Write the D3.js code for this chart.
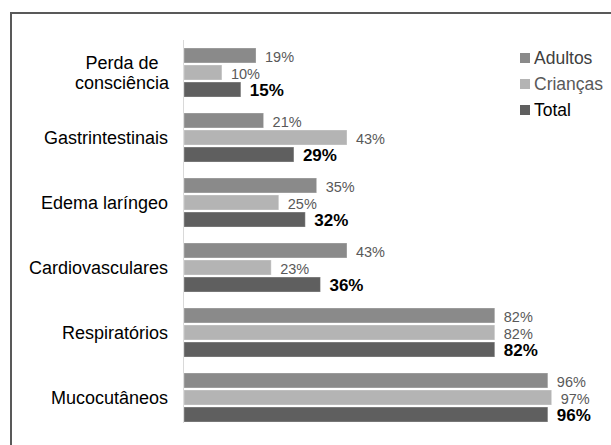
<!doctype html>
<html>
<head>
<meta charset="utf-8">
<style>
  body { margin: 0; background: #fff; }
  text { font-family: "Liberation Sans", Arial, sans-serif; }
</style>
<script src="https://d3js.org/d3.v7.min.js"></script>
</head>
<body>
<svg width="611" height="445"></svg>
<script>
// categories top to bottom (multi-line labels split with |)
var categories = ["Perda de|consciência", "Gastrintestinais", "Edema laríngeo",
                  "Cardiovasculares", "Respiratórios", "Mucocutâneos"];
var seriesNames = ["Adultos", "Crianças", "Total"];
var adultos  = [19, 21, 35, 43, 82, 96];
var criancas = [10, 43, 25, 23, 82, 97];
var total    = [15, 29, 32, 36, 82, 96];

var colors = ["#8a8a8a", "#b4b4b4", "#5f5f5f"];
var legendText = ["#404040", "#595959", "#000"];

var svg = d3.select("svg");

// outer frame
svg.append("rect")
   .attr("x", 11).attr("y", 13)
   .attr("width", 602).attr("height", 440)
   .attr("fill", "none")
   .attr("stroke", "#595959")
   .attr("stroke-width", 2);

var data = categories.map(function(c, i) {
  return { cat: c, vals: [adultos[i], criancas[i], total[i]] };
});

var x = d3.scaleLinear().domain([0, 100]).range([184, 563]);
var y = d3.scaleBand().domain(categories).range([40, 430])
          .paddingInner(0.246).paddingOuter(0.123);
var y1 = d3.scaleBand().domain(seriesNames).range([0, y.bandwidth()]).paddingInner(0.12);

// vertical axis line
svg.append("line")
   .attr("x1", 183.5).attr("x2", 183.5)
   .attr("y1", 40).attr("y2", 423)
   .attr("stroke", "#d9d9d9").attr("stroke-width", 1);

var groups = svg.selectAll(".grp")
  .data(data)
  .enter().append("g")
  .attr("class", "grp")
  .attr("transform", function(d) { return "translate(0," + y(d.cat) + ")"; });

groups.selectAll("rect")
  .data(function(d) { return d.vals.map(function(v, j) { return { v: v, s: seriesNames[j], j: j }; }); })
  .enter().append("rect")
  .attr("x", x(0))
  .attr("y", function(d) { return y1(d.s); })
  .attr("width", function(d) { return x(d.v) - x(0); })
  .attr("height", y1.bandwidth())
  .attr("fill", function(d) { return colors[d.j]; })
  .attr("stroke", "#fff")
  .attr("stroke-opacity", 0.3);

groups.selectAll(".val")
  .data(function(d) { return d.vals.map(function(v, j) { return { v: v, s: seriesNames[j], j: j }; }); })
  .enter().append("text")
  .attr("class", "val")
  .attr("x", function(d) { return x(d.v) + 9; })
  .attr("y", function(d) { return y1(d.s) + y1.bandwidth() / 2 + 1; })
  .attr("dy", "0.35em")
  .style("font-size", function(d) { return d.j == 2 ? "17px" : "14.5px"; })
  .style("font-weight", function(d) { return d.j == 2 ? "bold" : "normal"; })
  .attr("fill", function(d) { return d.j == 2 ? "#000" : "#595959"; })
  .text(function(d) { return d.v + "%"; });

// category labels
groups.each(function(d) {
  var lines = d.cat.split("|");
  var g = d3.select(this);
  var cy = y.bandwidth() / 2;
  var lh = 20;
  var t = g.append("text")
    .style("font-size", "18px")
    .attr("fill", "#000");
  if (lines.length == 1) {
    t.attr("x", 168).attr("y", cy).attr("dy", "0.35em")
     .attr("text-anchor", "end").text(lines[0]);
  } else {
    t.attr("text-anchor", "middle");
    lines.forEach(function(l, k) {
      t.append("tspan")
       .attr("x", 122)
       .attr("y", cy + (k - (lines.length - 1) / 2) * lh)
       .attr("dy", "0.35em")
       .text(l);
    });
  }
});

// legend
var legend = svg.selectAll(".leg")
  .data(seriesNames)
  .enter().append("g")
  .attr("class", "leg")
  .attr("transform", function(d, i) { return "translate(520," + (58 + i * 26) + ")"; });

legend.append("rect")
  .attr("x", 0).attr("y", -5)
  .attr("width", 10).attr("height", 10)
  .attr("fill", function(d, i) { return colors[i]; });

legend.append("text")
  .attr("x", 14).attr("y", 0).attr("dy", "0.35em")
  .style("font-size", "17.5px")
  .attr("fill", function(d, i) { return legendText[i]; })
  .text(function(d) { return d; });
</script>
</body>
</html>
